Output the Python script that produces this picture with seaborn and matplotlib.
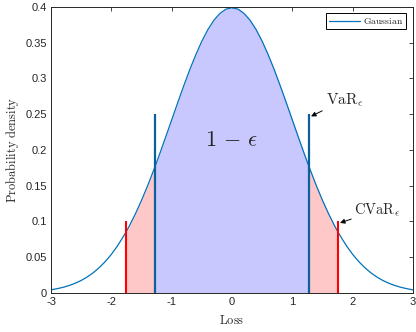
import numpy as np
import pandas as pd
import matplotlib
matplotlib.use("Agg")
import matplotlib.pyplot as plt
import seaborn as sns

# density curve (standard gaussian), plus the VaR / CVaR break points
loss = [-3.0, -2.9, -2.8, -2.7, -2.6, -2.5, -2.4, -2.3, -2.2, -2.1,
        -2.0, -1.9, -1.8, -1.755, -1.7, -1.6, -1.5, -1.4, -1.3, -1.28, -1.2, -1.1,
        -1.0, -0.9, -0.8, -0.7, -0.6, -0.5, -0.4, -0.3, -0.2, -0.1,
        0.0, 0.1, 0.2, 0.3, 0.4, 0.5, 0.6, 0.7, 0.8, 0.9,
        1.0, 1.1, 1.2, 1.28, 1.3, 1.4, 1.5, 1.6, 1.7, 1.755, 1.8, 1.9,
        2.0, 2.1, 2.2, 2.3, 2.4, 2.5, 2.6, 2.7, 2.8, 2.9, 3.0]
density = [0.0044, 0.0060, 0.0079, 0.0104, 0.0136, 0.0175, 0.0224, 0.0283, 0.0355, 0.0440,
           0.0540, 0.0656, 0.0790, 0.0855, 0.0940, 0.1109, 0.1295, 0.1497, 0.1714, 0.1758, 0.1942, 0.2179,
           0.2420, 0.2661, 0.2897, 0.3123, 0.3332, 0.3521, 0.3683, 0.3814, 0.3910, 0.3970,
           0.3989, 0.3970, 0.3910, 0.3814, 0.3683, 0.3521, 0.3332, 0.3123, 0.2897, 0.2661,
           0.2420, 0.2179, 0.1942, 0.1758, 0.1714, 0.1497, 0.1295, 0.1109, 0.0940, 0.0855, 0.0790, 0.0656,
           0.0540, 0.0440, 0.0355, 0.0283, 0.0224, 0.0175, 0.0136, 0.0104, 0.0079, 0.0060, 0.0044]

var_levels = [-1.28, 1.28]
var_height = 0.25
cvar_levels = [-1.755, 1.755]
cvar_height = 0.1

x_ticks = [-3, -2, -1, 0, 1, 2, 3]
x_labels = ["-3", "-2", "-1", "0", "1", "2", "3"]
y_ticks = [0, 0.05, 0.1, 0.15, 0.2, 0.25, 0.3, 0.35, 0.4]
y_labels = ["0", "0.05", "0.1", "0.15", "0.2", "0.25", "0.3", "0.35", "0.4"]

df = pd.DataFrame({"Loss": loss, "density": density})

sns.set_style("white")
plt.rcParams["font.family"] = ["Liberation Sans", "DejaVu Sans"]
plt.rcParams["mathtext.fontset"] = "cm"
plt.rcParams["xtick.direction"] = "in"
plt.rcParams["ytick.direction"] = "in"

fig = plt.figure(figsize=(4.16, 3.32), dpi=100)
ax = fig.add_axes([0.1226, 0.1175, 0.8702, 0.8615])

# shaded regions
x = df["Loss"].values
y = df["density"].values
mid = (x >= var_levels[0]) & (x <= var_levels[1])
left_tail = (x >= cvar_levels[0]) & (x <= var_levels[0])
right_tail = (x >= var_levels[1]) & (x <= cvar_levels[1])
ax.fill_between(x[mid], 0, y[mid], color="#c8c8fe", lw=0)
ax.fill_between(x[left_tail], 0, y[left_tail], color="#fec8c8", lw=0)
ax.fill_between(x[right_tail], 0, y[right_tail], color="#fec8c8", lw=0)

sns.lineplot(data=df, x="Loss", y="density", ax=ax, color="#0072BD", lw=0.9,
             label=r"$\mathrm{Gaussian}$", sort=False)

ax.vlines(var_levels, 0, var_height, color="#0b5f9b", lw=1.6, zorder=4)
ax.vlines(cvar_levels, 0, cvar_height, color="#ff0000", lw=1.5, zorder=4)

ax.text(0, 0.213, r"$1\,-\,\epsilon$", fontsize=16, ha="center", va="center")
ax.annotate(r"$\mathrm{VaR}_{\epsilon}$", xy=(1.31, 0.247), xytext=(1.55, 0.27),
            fontsize=11, va="center", ha="left",
            arrowprops=dict(arrowstyle="-|>", color="black", lw=0.7,
                            mutation_scale=7, shrinkA=0, shrinkB=0))
ax.annotate(r"$\mathrm{CVaR}_{\epsilon}$", xy=(1.79, 0.098), xytext=(2.03, 0.116),
            fontsize=10.5, va="center", ha="left",
            arrowprops=dict(arrowstyle="-|>", color="black", lw=0.7,
                            mutation_scale=7, shrinkA=0, shrinkB=0))

ax.set_xlim(-3, 3)
ax.set_ylim(0, 0.4)
ax.set_xticks(x_ticks)
ax.set_xticklabels(x_labels)
ax.set_yticks(y_ticks)
ax.set_yticklabels(y_labels)
ax.tick_params(axis="both", labelsize=8, colors="#262626", length=3, width=0.6,
               top=True, right=True, pad=3)
for s in ax.spines.values():
    s.set_visible(True)
    s.set_color("#262626")
    s.set_linewidth(0.7)

ax.set_xlabel(r"$\mathrm{Loss}$", fontsize=9, color="#262626", labelpad=5)
ax.set_ylabel(r"$\mathrm{Probability\ density}$", fontsize=9, color="#262626", labelpad=3)

leg = ax.legend(loc="upper right", bbox_to_anchor=(0.98, 0.978), fontsize=7,
                frameon=True, fancybox=False, edgecolor="black", framealpha=1,
                handlelength=3.2, handletextpad=0.3, borderpad=0.3, borderaxespad=0)
leg.get_frame().set_linewidth(0.7)

fig.savefig("out.png", dpi=100)
